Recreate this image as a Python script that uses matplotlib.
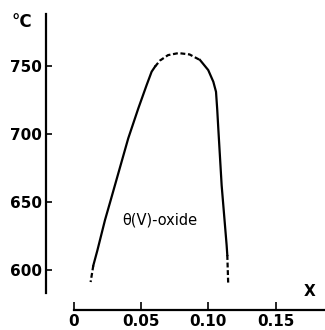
import matplotlib
matplotlib.use('Agg')
import matplotlib.pyplot as plt

# left boundary of the theta(V)-oxide field
left_x = [0.0144, 0.0174, 0.0231, 0.0273, 0.0404, 0.0479, 0.0541, 0.0578, 0.0603]
left_T = [603, 614, 636.5, 651, 696.7, 718.8, 736, 745.8, 749.5]
left_dash_x = [0.0144, 0.0124]
left_dash_T = [603, 590.8]

# top (uncertain, dashed)
top_x = [0.0603, 0.064, 0.070, 0.0778, 0.086, 0.0938]
top_T = [749.5, 754, 758, 759.5, 758.5, 754.4]

# right boundary
right_x = [0.0938, 0.0999, 0.1037, 0.1057, 0.1066, 0.1074, 0.1099, 0.1136, 0.1141]
right_T = [754.4, 747, 738.4, 731, 718, 704, 662, 618, 610.7]
right_dash_x = [0.1141, 0.1148]
right_dash_T = [610.7, 588.6]

xticks = [0, 0.05, 0.10, 0.15]
xticklabels = ['0', '0.05', '0.10', '0.15']
yticks = [600, 650, 700, 750]

fig = plt.figure(figsize=(3.25, 3.3), dpi=100)
ax = fig.add_axes([46/325, 20/330, 279/325, 296/330])
ax.set_xlim(-0.0208, 0.1868)
ax.set_ylim(570.2, 788.3)

lw = 1.6
dash = (2.2, 1.2)
ax.plot(left_x, left_T, 'k-', lw=lw, solid_joinstyle='round')
ax.plot(right_x, right_T, 'k-', lw=lw, solid_joinstyle='round')
ax.plot(top_x, top_T, 'k--', lw=lw, dashes=dash)
ax.plot(left_dash_x, left_dash_T, 'k--', lw=lw, dashes=dash)
ax.plot(right_dash_x, right_dash_T, 'k--', lw=lw, dashes=dash)

ax.text(0.064, 636.5, 'θ(V)-oxide', ha='center', va='center', fontsize=10.5)

# detached axes like the original drawing
ax.spines['top'].set_visible(False)
ax.spines['right'].set_visible(False)
ax.spines['left'].set_linewidth(1.6)
ax.spines['bottom'].set_linewidth(1.6)
ax.spines['left'].set_bounds(582.7, 788.3)
ax.spines['bottom'].set_bounds(0, 0.1868)

ax.set_xticks(xticks)
ax.set_xticklabels(xticklabels)
ax.set_yticks(yticks)
ax.tick_params(axis='y', direction='in', length=4.5, width=1.2, pad=3, labelsize=11)
ax.tick_params(axis='x', direction='in', length=6, width=1.2, pad=3, labelsize=11)
for lab in ax.get_xticklabels() + ax.get_yticklabels():
    lab.set_fontweight('bold')

fig.text(22/325, 1 - 22/330, '°C', ha='center', va='center', fontsize=12, fontweight='bold')
fig.text(310/325, 1 - 292/330, 'X', ha='center', va='center', fontsize=11, fontweight='bold')

fig.savefig('out.png', dpi=100)
